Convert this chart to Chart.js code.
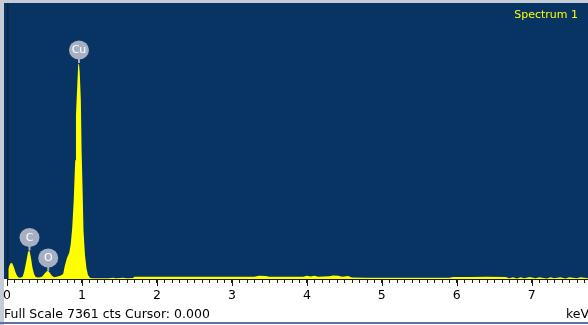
<!DOCTYPE html>
<html>
<head>
<meta charset="utf-8">
<script src="https://cdn.jsdelivr.net/npm/chart.js@4"></script>
<style>
  html, body { margin: 0; padding: 0; background: #ffffff; }
  #wrap { width: 588px; height: 325px; position: relative; overflow: hidden; }
</style>
</head>
<body>
<div id="wrap"><canvas id="spectrum" width="588" height="325"></canvas></div>
<script>
// EDS spectrum: energy (keV) and counts per channel
const energyKeV = [
  0.00, 0.03, 0.05, 0.07, 0.09, 0.11, 0.13, 0.15, 0.18, 0.21,
  0.23, 0.26, 0.28, 0.30, 0.32, 0.34, 0.36, 0.38, 0.41, 0.44,
  0.47, 0.50, 0.53, 0.55, 0.57, 0.60, 0.63, 0.66, 0.70, 0.73,
  0.75, 0.77, 0.80, 0.83, 0.85, 0.87, 0.89, 0.91, 0.92, 0.94,
  0.95, 0.96, 0.97, 0.985, 0.995, 1.01, 1.02, 1.04, 1.06, 1.08,
  1.11, 1.15, 1.25, 1.35, 1.42, 1.45, 1.55, 1.60, 1.68, 1.70,
  1.90, 2.10, 2.40, 2.70, 3.00, 3.30, 3.36, 3.45, 3.50, 3.70,
  3.95, 4.00, 4.05, 4.10, 4.15, 4.30, 4.35, 4.42, 4.47, 4.55,
  4.60, 4.80, 5.00, 5.30, 5.60, 5.90, 5.95, 6.20, 6.40, 6.65,
  6.70, 6.75, 6.80, 6.85, 6.90, 6.97, 7.05, 7.10, 7.20, 7.25,
  7.30, 7.38, 7.45, 7.50, 7.60, 7.65, 7.75
];
const counts = [
  190, 350, 430, 420, 330, 200, 100, 50, 35, 70,
  200, 500, 720, 760, 560, 300, 140, 60, 40, 45,
  70, 140, 205, 215, 170, 85, 50, 60, 80, 105,
  140, 340, 560, 700, 930, 1360, 2100, 3170, 4370, 5300,
  5730, 5760, 5520, 4770, 3440, 2240, 1310, 640, 290, 105,
  30, 22, 20, 22, 35, 20, 35, 22, 25, 60,
  62, 60, 62, 60, 60, 62, 85, 80, 62, 60,
  60, 90, 65, 85, 60, 75, 95, 85, 60, 80,
  40, 35, 32, 35, 33, 35, 55, 55, 58, 55,
  20, 45, 15, 50, 20, 55, 20, 45, 15, 50,
  20, 45, 15, 50, 20, 45, 20
];

// Identified element lines
const peakNames = ['C', 'O', 'Cu'];
const peakEnergyKeV = [0.30, 0.55, 0.96];

// Axis
const axisTickLabels = ['0', '1', '2', '3', '4', '5', '6', '7'];
const minorStepKeV = 0.1;
const energyMaxKeV = 7.75;
const fullScaleCts = 7361;
const cursorKeV = '0.000';
const spectrumTitle = 'Spectrum 1';

const FONT = '"DejaVu Sans", sans-serif';
const PLOT_BG = '#073463';
const TRACE = '#ffff00';
const AXIS_INK = '#1a1a1a';

function peakCount(e) {
  let best = 0;
  energyKeV.forEach((x, i) => {
    if (Math.abs(x - e) <= 0.03 && counts[i] > best) best = counts[i];
  });
  return best;
}

const spectrumDecor = {
  id: 'spectrumDecor',
  beforeDraw(chart) {
    const { ctx, chartArea: a, width, height } = chart;
    ctx.save();
    ctx.fillStyle = '#ffffff';
    ctx.fillRect(0, 0, width, height);
    // window frame
    ctx.fillStyle = '#c5ccd6';
    ctx.fillRect(0, 0, width, 3);
    ctx.fillRect(0, 0, 4, height);
    ctx.fillStyle = '#58759f';
    ctx.fillRect(0, height - 3, width, 2);
    // plot background
    ctx.fillStyle = PLOT_BG;
    ctx.fillRect(a.left - 3, a.top, width - a.left + 3, a.bottom - a.top);
    ctx.restore();
  },
  afterDatasetsDraw(chart) {
    const { ctx, chartArea: a, scales: { x, y } } = chart;
    ctx.save();
    // zero-energy line
    ctx.fillStyle = '#13223a';
    ctx.fillRect(a.left, a.top, 1.5, a.bottom - a.top);
    // element markers
    peakNames.forEach((name, i) => {
      const px = x.getPixelForValue(peakEnergyKeV[i]);
      const py = y.getPixelForValue(peakCount(peakEnergyKeV[i]));
      const cy = py - 13;
      ctx.strokeStyle = '#a7b0c2';
      ctx.lineWidth = 2;
      ctx.beginPath();
      ctx.moveTo(px, cy + 8);
      ctx.lineTo(px, py);
      ctx.stroke();
      ctx.fillStyle = '#a7b0c2';
      ctx.beginPath();
      ctx.ellipse(px, cy, 10, 9.5, 0, 0, Math.PI * 2);
      ctx.fill();
      ctx.fillStyle = '#ffffff';
      ctx.font = '11px ' + FONT;
      ctx.textAlign = 'center';
      ctx.textBaseline = 'middle';
      ctx.fillText(name, px, cy + 0.5);
    });
    ctx.restore();
  },
  afterDraw(chart) {
    const { ctx, chartArea: a, scales: { x }, width } = chart;
    ctx.save();
    ctx.fillStyle = AXIS_INK;
    const base = Math.round(a.bottom);
    // minor marks every 0.1 keV, longer marks at whole keV
    const n = Math.floor(energyMaxKeV / minorStepKeV + 1e-9);
    for (let i = 0; i <= n; i++) {
      const px = Math.round(x.getPixelForValue(i * minorStepKeV));
      ctx.fillRect(px, base, 1, i % 10 === 0 ? 7 : 4);
    }
    ctx.fillStyle = '#000000';
    ctx.font = '12.5px ' + FONT;
    ctx.textBaseline = 'alphabetic';
    ctx.textAlign = 'left';
    ctx.fillText('Full Scale ' + fullScaleCts + ' cts Cursor: ' + cursorKeV, 4, 318);
    ctx.textAlign = 'right';
    ctx.fillText('keV', width + 1, 318);
    ctx.fillStyle = TRACE;
    ctx.font = '11px ' + FONT;
    ctx.fillText(spectrumTitle, 578, 18);
    ctx.restore();
  }
};

new Chart(document.getElementById('spectrum'), {
  type: 'line',
  data: {
    datasets: [{
      data: energyKeV.map((e, i) => ({ x: e, y: counts[i] })),
      borderColor: TRACE,
      borderWidth: 0,
      backgroundColor: TRACE,
      fill: 'origin',
      pointRadius: 0,
      tension: 0
    }]
  },
  options: {
    responsive: false,
    animation: false,
    events: [],
    layout: { padding: { left: 7, top: 3, right: 0, bottom: 0 } },
    plugins: { legend: { display: false }, tooltip: { enabled: false } },
    scales: {
      x: {
        type: 'linear',
        min: 0,
        max: energyMaxKeV,
        afterFit: (s) => { s.height = 46; },
        ticks: {
          stepSize: 1,
          autoSkip: false,
          includeBounds: false,
          maxRotation: 0,
          padding: 0,
          color: '#000000',
          font: { family: FONT, size: 12.5, lineHeight: 2.08 },
          callback: (v) => {
            const k = Math.round(v);
            return axisTickLabels[k] !== undefined ? axisTickLabels[k] : '';
          }
        },
        grid: {
          drawOnChartArea: false,
          drawTicks: true,
          tickLength: 4,
          tickColor: AXIS_INK,
          tickWidth: 1
        },
        border: { display: true, color: AXIS_INK, width: 1 }
      },
      y: {
        display: false,
        min: 0,
        max: fullScaleCts
      }
    }
  },
  plugins: [spectrumDecor]
});
</script>
</body>
</html>
